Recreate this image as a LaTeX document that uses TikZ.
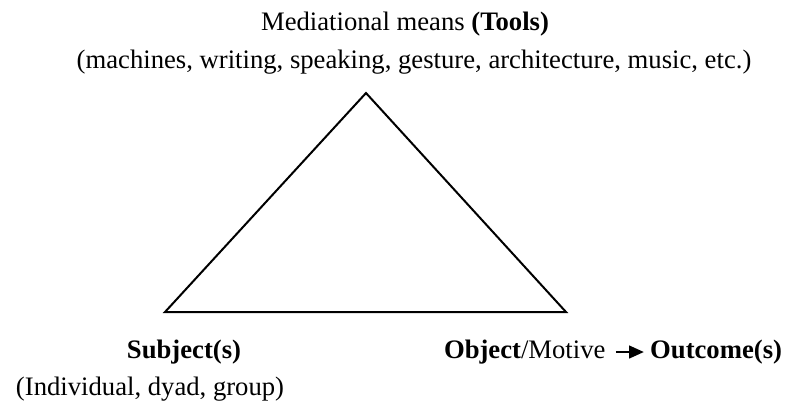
\documentclass[tikz,border=0pt]{standalone}
\usepackage{fontspec}
\setmainfont{Liberation Serif}
\usetikzlibrary{arrows.meta}

\begin{document}
\begin{tikzpicture}
            [x=0.75pt,y=-0.75pt,line width=1.5pt,every node/.style={inner sep=0pt,font=\fontsize{20}{24}\selectfont}]
            \useasboundingbox (0,0) rectangle (787,401);
            % corners of the triangle
            \coordinate (top) at (366,93);
            \coordinate (left) at (165,312);
            \coordinate (right) at (566,312);
            % labels
            \node (tools) at (405,24) {Mediational means \textbf{(Tools)}};
            \node (means) at (414,62) {(machines, writing, speaking, gesture, architecture, music, etc.)};
            \node (subj) at (184,352) {\textbf{Subject(s)}};
            \node[anchor=west] (group) at (15,389) {(Individual, dyad, group)};
            \node[anchor=west] (obj) at (443,352) {\textbf{Object}/Motive};
            \node[anchor=east] (out) at (783,352) {\textbf{Outcome(s)}};
            % the triangle
            \draw (top) -- (right) -- (left) -- cycle;
            % outcome
            \draw[-{Triangle[length=11pt,width=9.5pt]}] ([xshift=7pt]obj.east) -- ([xshift=-4pt]out.west);
        \end{tikzpicture}
\end{document}
